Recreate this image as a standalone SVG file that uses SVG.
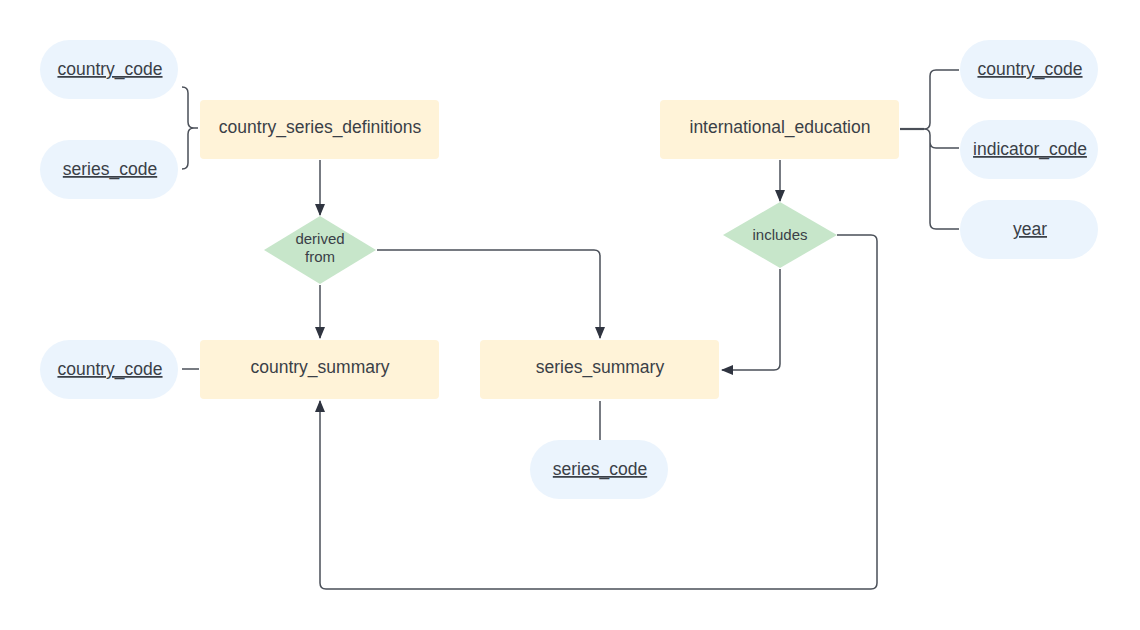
<svg xmlns="http://www.w3.org/2000/svg" width="1140" height="630" viewBox="0 0 1140 630">
<style>
.attr{fill:#ebf4fd;}
.ent{fill:#fff3d8;}
.rel{fill:#c7e6ca;}
text{font-family:"Liberation Sans",Arial,sans-serif;fill:#3a3f47;text-anchor:middle;}
.t{font-size:17.5px;}
.u{font-size:17.5px;text-decoration:underline;}
.r{font-size:15px;}
.c{fill:none;stroke:#4a4f58;stroke-width:1.5;}
</style>
<defs>
<marker id="ah" viewBox="0 0 12 12" refX="11" refY="6" markerWidth="12" markerHeight="12" markerUnits="userSpaceOnUse" orient="auto">
<path d="M0,1 L12,6 L0,11 Z" fill="#2f3440"/>
</marker>
</defs>
<rect width="1140" height="630" fill="#ffffff"/>
<g id="connectors">
<path class="c" d="M182,87 Q188,87 188,93 L188,122 Q188,128 194,128 L198,128 M182,169 Q188,169 188,163 L188,134 Q188,128 194,128"/>
<path class="c" d="M320,160 L320,215" marker-end="url(#ah)"/>
<path class="c" d="M320,285 L320,338" marker-end="url(#ah)"/>
<path class="c" d="M377,250 L594,250 Q600,250 600,256 L600,338" marker-end="url(#ah)"/>
<path class="c" d="M780,160 L780,201" marker-end="url(#ah)"/>
<path class="c" d="M780,269 L780,364 Q780,370 774,370 L722,370" marker-end="url(#ah)"/>
<path class="c" d="M837,235 L871,235 Q877,235 877,241 L877,583 Q877,589 871,589 L326,589 Q320,589 320,583 L320,401" marker-end="url(#ah)"/>
<path class="c" d="M182,369 L199,369"/>
<path class="c" d="M600,401 L600,440"/>
<path class="c" d="M900,129 L924,129 Q930,129 930,123 L930,76 Q930,70 936,70 L959,70 M924,129 Q930,129 930,135 L930,142 Q930,148 936,148 L959,148 M930,142 L930,223 Q930,229 936,229 L959,229"/>
<path class="c" d="M900,129 L924,129" style="stroke-width:2.2"/>
</g>
<g id="csd_country_code"><rect class="attr" x="40" y="40" width="138" height="59" rx="29.5"/><text class="u" x="110" y="75">country_code</text></g>
<g id="csd_series_code"><rect class="attr" x="40" y="140" width="138" height="59" rx="29.5"/><text class="u" x="110" y="175">series_code</text></g>
<g id="country_series_definitions"><rect class="ent" x="200" y="100" width="239" height="59" rx="4"/><text class="t" x="320" y="133">country_series_definitions</text></g>
<g id="international_education"><rect class="ent" x="660" y="100" width="239" height="59" rx="4"/><text class="t" x="780" y="133">international_education</text></g>
<g id="ie_country_code"><rect class="attr" x="960" y="40" width="138" height="59" rx="29.5"/><text class="u" x="1030" y="75">country_code</text></g>
<g id="ie_indicator_code"><rect class="attr" x="960" y="120" width="138" height="59" rx="29.5"/><text class="u" x="1030" y="155">indicator_code</text></g>
<g id="ie_year"><rect class="attr" x="960" y="200" width="138" height="59" rx="29.5"/><text class="u" x="1030" y="235">year</text></g>
<g id="derived_from"><path class="rel" d="M320,216 L376,250 L320,284 L264,250 Z"/><text class="r" x="320" y="244">derived</text><text class="r" x="320" y="262">from</text></g>
<g id="includes"><path class="rel" d="M780,202 L837,235 L780,268 L723,235 Z"/><text class="r" x="780" y="240">includes</text></g>
<g id="cs_country_code"><rect class="attr" x="40" y="340" width="138" height="59" rx="29.5"/><text class="u" x="110" y="375">country_code</text></g>
<g id="country_summary"><rect class="ent" x="200" y="340" width="239" height="59" rx="4"/><text class="t" x="320" y="373">country_summary</text></g>
<g id="series_summary"><rect class="ent" x="480" y="340" width="239" height="59" rx="4"/><text class="t" x="600" y="373">series_summary</text></g>
<g id="ss_series_code"><rect class="attr" x="530" y="440" width="138" height="59" rx="29.5"/><text class="u" x="600" y="475">series_code</text></g>
</svg>
